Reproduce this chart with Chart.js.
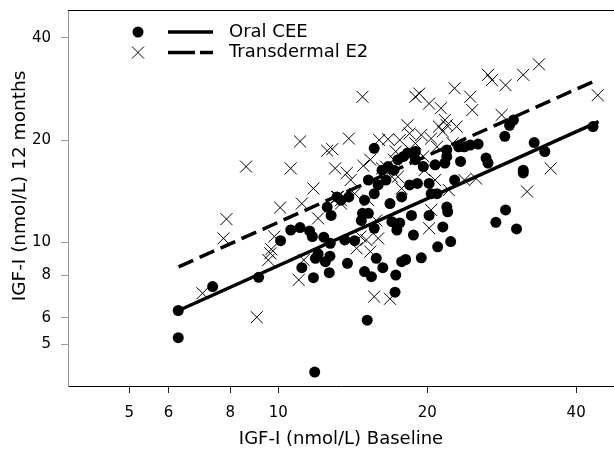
<!DOCTYPE html>
<html><head><meta charset="utf-8">
<script src="https://cdn.jsdelivr.net/npm/chart.js@4.4.1/dist/chart.umd.min.js"></script>
<style>html,body{margin:0;padding:0;background:#fff;}#wrap{width:614px;height:453px;}</style>
</head><body><div id="wrap"><canvas id="c" width="614" height="453"></canvas></div>
<script>
const xTicks = [5, 6, 8, 10, 20, 40];
const yTicks = [5, 6, 8, 10, 20, 40];
const xTitle = 'IGF-I (nmol/L) Baseline';
const yTitle = 'IGF-I (nmol/L) 12 months';
const seriesNames = ['Oral CEE', 'Transdermal E2'];

const oralX = [6.28,6.28,11.85,7.37,9.13,10.11,10.6,11.07,11.57,11.72,
  11.16,11.78,11.89,12.04,12.36,12.45,12.68,12.72,12.74,12.79,
  12.56,13.63,13.8,14.27,14.94,15.13,15.43,15.63,15.78,16.27,
  17.28,17.22,16.97,17.37,17.6,17.76,18.09,18.59,18.76,19.46,
  20.18,20.37,21.0,21.51,22.31,21.91,22.0,27.53,28.8,30.31,
  31.27,31.27,32.9,34.56,28.7,29.34,29.88,26.3,26.54,25.35,
  43.26,15.63,14.94,14.8,14.72,15.21,15.63,15.21,15.92,16.21,
  16.67,16.82,17.76,17.92,18.43,18.93,19.11,19.64,20.75,20.18,
  20.93,21.71,21.91,22.72,23.36,23.15,23.78,24.44,21.91,13.39,
  13.15,13.89,17.13,17.45,16.51,18.25,18.93];
const oralY = [6.3,5.24,4.15,7.41,7.89,10.11,10.87,11.05,10.8,10.4,
  8.42,7.87,8.97,9.24,10.35,8.77,8.14,9.1,9.93,12.0,
  12.7,10.16,8.67,10.11,8.2,5.9,7.92,11.0,8.97,8.42,
  8.01,7.13,11.5,10.87,11.4,8.77,8.9,12.0,10.5,9.0,
  12.0,13.9,9.7,11.1,10.05,12.7,12.3,11.45,12.45,10.95,
  16.3,16.0,19.65,18.5,20.5,22.1,22.9,17.7,17.1,19.46,
  21.9,18.9,13.3,12.17,11.6,12.17,13.9,15.25,14.75,16.3,
  16.7,13.0,13.6,17.9,14.75,17.5,14.9,16.7,16.9,14.9,
  13.9,17.1,17.9,15.25,17.3,19.1,19.1,19.33,18.7,13.3,
  13.6,13.6,16.3,17.5,15.25,18.3,18.5];

const transX = [7.03,7.75,7.86,8.61,9.05,9.55,9.64,9.68,9.82,10.09,
  10.6,11.07,11.0,11.16,11.26,11.78,12.04,12.56,12.86,13.03,
  13.2,13.39,13.89,13.76,14.01,14.27,14.4,14.67,14.8,14.86,
  15.07,15.35,15.63,15.92,16.0,16.67,16.82,17.13,17.28,17.6,
  17.76,18.25,18.43,18.59,18.93,19.28,19.46,19.75,20.18,20.18,
  20.37,20.37,20.75,20.93,21.32,21.51,21.71,21.91,22.11,22.52,
  22.72,22.93,23.78,24.44,24.67,25.12,26.54,27.03,28.28,28.8,
  31.27,31.84,33.64,35.53,44.22,18.93,19.64,21.13,16.51,16.97,
  17.45,13.39,13.15,15.21,15.35,15.78,16.21];
const transY = [7.08,10.27,11.7,16.7,6.02,8.87,9.28,9.54,10.4,12.65,
  16.5,19.8,7.75,13.0,8.87,14.4,11.76,18.6,18.8,16.5,
  13.6,13.0,20.2,16.0,15.25,13.9,9.6,10.4,26.8,16.8,
  10.16,9.39,6.92,10.27,20.0,20.1,6.82,17.5,18.5,20.0,
  14.4,22.1,20.9,18.5,26.8,27.4,20.7,16.3,25.6,11.0,
  12.45,20.2,15.25,19.1,24.8,21.2,22.9,22.1,14.25,19.55,
  28.4,21.9,15.25,26.8,24.5,15.4,31.1,30.0,23.7,29.0,
  31.1,14.1,33.4,16.5,27.1,19.55,17.9,21.9,16.7,15.6,
  15.6,13.3,13.6,13.3,17.5,11.6,16.5];

// fitted regression lines (end points)
const oralFitX = [6.29, 44.4];
const oralFitY = [6.3, 22.64];
const transFitX = [6.29, 44.2];
const transFitY = [8.47, 30.1];

const FONT = '"DejaVu Sans", sans-serif';
const pts = (xs, ys) => xs.map((x, i) => ({x: x, y: ys[i]}));

const overlay = {
  id: 'overlay',
  afterDraw(chart) {
    const ctx = chart.ctx, a = chart.chartArea;
    ctx.save();
    // top frame line
    ctx.strokeStyle = '#000'; ctx.lineWidth = 1;
    ctx.beginPath(); ctx.moveTo(a.left, a.top + 0.5); ctx.lineTo(a.right, a.top + 0.5); ctx.stroke();
    // legend
    ctx.fillStyle = '#000';
    ctx.beginPath(); ctx.arc(138, 32, 5.5, 0, Math.PI * 2); ctx.fill();
    ctx.lineWidth = 3.5;
    ctx.beginPath(); ctx.moveTo(168, 32); ctx.lineTo(213, 32); ctx.stroke();
    ctx.lineWidth = 1;
    ctx.beginPath();
    ctx.moveTo(132, 46.5); ctx.lineTo(144, 58.5);
    ctx.moveTo(132, 58.5); ctx.lineTo(144, 46.5);
    ctx.stroke();
    ctx.lineWidth = 3.5; ctx.setLineDash([27, 5]);
    ctx.beginPath(); ctx.moveTo(168, 52.5); ctx.lineTo(213, 52.5); ctx.stroke();
    ctx.setLineDash([]);
    ctx.font = '18px ' + FONT; ctx.textAlign = 'left'; ctx.textBaseline = 'middle';
    ctx.fillText(seriesNames[0], 229, 32);
    ctx.fillText(seriesNames[1], 229, 52.5);
    // y axis title
    ctx.translate(20, 186); ctx.rotate(-Math.PI / 2);
    ctx.font = '18.5px ' + FONT; ctx.textAlign = 'center'; ctx.textBaseline = 'middle';
    ctx.fillText(yTitle, 0, 0);
    ctx.restore();
  }
};

new Chart(document.getElementById('c'), {
  type: 'scatter',
  data: {
    datasets: [
      {label: seriesNames[0], data: pts(oralX, oralY), pointStyle: 'circle', pointRadius: 5.5,
       backgroundColor: '#000', borderColor: '#000', borderWidth: 0},
      {label: seriesNames[1], data: pts(transX, transY), pointStyle: 'crossRot', pointRadius: 8.5,
       backgroundColor: '#000', borderColor: '#000', borderWidth: 1},
      {label: seriesNames[0] + ' fit', data: pts(oralFitX, oralFitY), showLine: true, pointRadius: 0,
       borderColor: '#000', borderWidth: 3.5, fill: false},
      {label: seriesNames[1] + ' fit', data: pts(transFitX, transFitY), showLine: true, pointRadius: 0,
       borderColor: '#000', borderWidth: 3.5, borderDash: [16, 7], fill: false}
    ]
  },
  options: {
    responsive: false, animation: false, devicePixelRatio: 1,
    layout: {autoPadding: false, padding: {top: 10, left: 0, right: 0, bottom: 0}},
    plugins: {legend: {display: false}, tooltip: {enabled: false}},
    scales: {
      x: {
        type: 'logarithmic', position: 'bottom', min: 3.76, max: 47.7,
        afterBuildTicks: s => { s.ticks = xTicks.map(v => ({value: v})); },
        afterFit: s => { s.height = 67; s.paddingLeft = 0; s.paddingRight = 0; },
        ticks: {font: {family: FONT, size: 15}, color: '#000', padding: 11, maxRotation: 0, autoSkip: false,
                callback: v => String(v)},
        grid: {display: true, drawOnChartArea: false, drawTicks: true, tickLength: 7, color: '#222', tickColor: '#222'},
        border: {display: true, color: '#000', width: 1},
        title: {display: true, text: xTitle, font: {family: FONT, size: 18}, color: '#000', padding: {top: 0, bottom: 3}}
      },
      y: {
        type: 'logarithmic', position: 'left', min: 3.777, max: 48.26,
        afterBuildTicks: s => { s.ticks = yTicks.map(v => ({value: v})); },
        afterFit: s => { s.width = 68; s.paddingTop = 0; s.paddingBottom = 0; },
        ticks: {font: {family: FONT, size: 15}, color: '#000', padding: 10, autoSkip: false,
                callback: v => String(v)},
        grid: {display: true, drawOnChartArea: false, drawTicks: true, tickLength: 7, color: '#999', tickColor: '#999'},
        border: {display: true, color: '#999', width: 1},
        title: {display: false}
      }
    }
  },
  plugins: [overlay]
});
</script></body></html>
